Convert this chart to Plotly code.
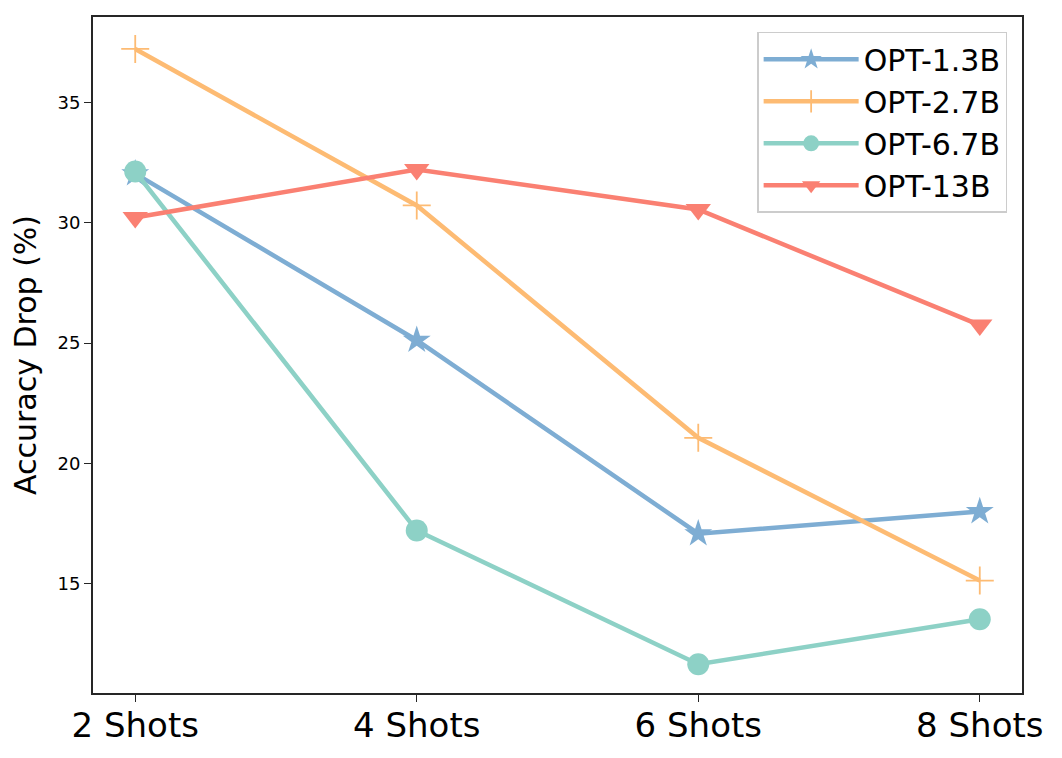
import plotly.graph_objects as go

# data
shots = ['2 Shots', '4 Shots', '6 Shots', '8 Shots']
opt_1_3b = [32.05, 25.12, 17.07, 17.99]
opt_2_7b = [37.24, 30.73, 21.06, 15.12]
opt_6_7b = [32.14, 17.20, 11.64, 13.51]
opt_13b = [30.23, 32.22, 30.56, 25.75]

series = [
    ('OPT-1.3B', opt_1_3b, '#7eadd3', 'star', 21),
    ('OPT-2.7B', opt_2_7b, '#fdbb73', 'cross-thin', 20),
    ('OPT-6.7B', opt_6_7b, '#8dd1c6', 'circle', 22),
    ('OPT-13B', opt_13b, '#fa8072', 'triangle-down', 22),
]

fig = go.Figure()
for name, vals, color, sym, size in series:
    fig.add_trace(go.Scatter(
        x=list(range(len(shots))), y=vals, name=name, mode='lines+markers',
        line=dict(color=color, width=4.5),
        marker=dict(symbol=sym, size=size, color=color,
                    line=dict(color=color, width=1.8 if sym == 'cross-thin' else 0)),
    ))

# the page body has an 8px margin, so the margins are shifted by that much
fig.update_layout(
    width=1062, height=758,
    margin=dict(l=85, r=48, t=7, b=73),
    plot_bgcolor='white', paper_bgcolor='white',
    font=dict(family='DejaVu Sans', color='black'),
    showlegend=True,
    legend=dict(x=0.984, y=0.978, xanchor='right', yanchor='top',
                bordercolor='#cccccc', borderwidth=1.5, bgcolor='white',
                font=dict(size=30), itemwidth=95, tracegroupgap=0),
)
fig.update_xaxes(
    range=[-0.15, 3.15], tickmode='array', tickvals=list(range(len(shots))), ticktext=shots,
    tickfont=dict(size=34), ticklabelstandoff=-6, showgrid=False, zeroline=False,
    showline=True, linecolor='#262626', linewidth=1.8, mirror=True,
    ticks='outside', ticklen=7, tickcolor='#262626',
)
fig.update_yaxes(
    range=[10.44, 38.57], tickvals=[15, 20, 25, 30, 35], tickfont=dict(size=18),
    title=dict(text='Accuracy Drop (%)', font=dict(size=30), standoff=12),
    showgrid=False, zeroline=False,
    showline=True, linecolor='#262626', linewidth=1.8, mirror=True,
    ticks='outside', ticklen=7, tickcolor='#262626',
)

fig.write_html('out.html')
